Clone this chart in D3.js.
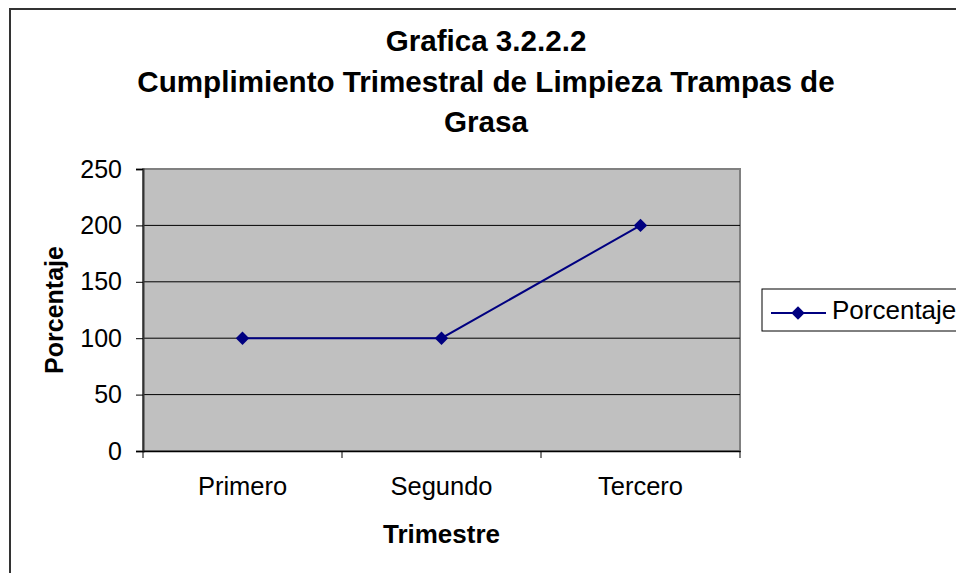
<!DOCTYPE html>
<html>
<head>
<meta charset="utf-8">
<script src="https://cdn.jsdelivr.net/npm/d3@7"></script>
<style>
  body { margin: 0; background: #fff; }
  svg text { font-family: "Liberation Sans", Arial, sans-serif; }
</style>
</head>
<body>
<div id="chart"></div>
<script>
// data
const categories = ["Primero", "Segundo", "Tercero"];
const porcentaje = [100, 100, 200];
const yTicks = [0, 50, 100, 150, 200, 250];
const titleLines = ["Grafica 3.2.2.2", "Cumplimiento Trimestral de Limpieza Trampas de", "Grasa"];

const W = 956, H = 573;
const plot = {left: 143, top: 169, right: 740, bottom: 451};

const svg = d3.select("#chart").append("svg")
  .attr("width", W).attr("height", H);

// outer chart border
svg.append("rect")
  .attr("x", 10).attr("y", 9)
  .attr("width", 980).attr("height", 600)
  .attr("fill", "#fff").attr("stroke", "#333").attr("stroke-width", 2);

// title
svg.append("text")
  .attr("text-anchor", "middle")
  .attr("font-weight", "bold").attr("font-size", 29.6)
  .selectAll("tspan").data(titleLines).enter().append("tspan")
  .attr("x", 486).attr("y", (d, i) => 51 + i * 40.5)
  .text(d => d);

const x = d3.scaleBand().domain(categories).range([plot.left, plot.right]);
const y = d3.scaleLinear().domain([0, 250]).range([plot.bottom, plot.top]);

// plot area
svg.append("rect")
  .attr("x", plot.left).attr("y", plot.top)
  .attr("width", plot.right - plot.left).attr("height", plot.bottom - plot.top)
  .attr("fill", "#c0c0c0").attr("stroke", "#808080").attr("stroke-width", 2);

// gridlines
svg.append("g").selectAll("line").data(yTicks.filter(d => d > 0 && d < 250)).enter()
  .append("line")
  .attr("x1", plot.left).attr("x2", plot.right)
  .attr("y1", d => y(d)).attr("y2", d => y(d))
  .attr("stroke", "#000").attr("stroke-width", 1);

// y axis
const yAxis = svg.append("g")
  .attr("transform", `translate(${plot.left},0)`)
  .call(d3.axisLeft(y).tickValues(yTicks).tickSize(7).tickPadding(14));
yAxis.select(".domain").attr("stroke", "#333").attr("stroke-width", 2);
yAxis.selectAll(".tick line").attr("stroke", "#000");
yAxis.selectAll("text").attr("font-size", 25).attr("fill", "#000")
  .attr("font-family", "Liberation Sans, Arial, sans-serif");

// x axis
const xAxis = svg.append("g")
  .attr("transform", `translate(0,${plot.bottom})`)
  .call(d3.axisBottom(x).tickSize(0).tickPadding(26));
xAxis.select(".domain").attr("stroke", "#000").attr("stroke-width", 1.5);
xAxis.selectAll("text").attr("font-size", 25.5).attr("fill", "#000")
  .attr("font-family", "Liberation Sans, Arial, sans-serif");
// boundary ticks between categories
const bounds = categories.map(c => x(c)).concat([plot.right]);
xAxis.selectAll(".btick").data(bounds).enter().append("line")
  .attr("x1", d => d).attr("x2", d => d)
  .attr("y1", 0).attr("y2", 7)
  .attr("stroke", "#000");

// axis titles
svg.append("text")
  .attr("x", x(categories[1]) + x.bandwidth() / 2).attr("y", 543)
  .attr("text-anchor", "middle").attr("font-weight", "bold").attr("font-size", 26)
  .text("Trimestre");
svg.append("text")
  .attr("transform", `translate(63,${(plot.top + plot.bottom) / 2}) rotate(-90)`)
  .attr("text-anchor", "middle").attr("font-weight", "bold").attr("font-size", 25)
  .text("Porcentaje");

// series line
const cx = d => x(d) + x.bandwidth() / 2;
const line = d3.line().x((d, i) => cx(categories[i])).y(d => y(d));
svg.append("path").datum(porcentaje)
  .attr("d", line).attr("fill", "none")
  .attr("stroke", "#000080").attr("stroke-width", 2);

const diamond = d3.symbol().type(d3.symbolSquare).size(90);
svg.append("g").selectAll("path").data(porcentaje).enter().append("path")
  .attr("d", diamond)
  .attr("transform", (d, i) => `translate(${cx(categories[i])},${y(d)}) rotate(45)`)
  .attr("fill", "#000080");

// legend
svg.append("rect")
  .attr("x", 762).attr("y", 289).attr("width", 220).attr("height", 42)
  .attr("fill", "#fff").attr("stroke", "#000").attr("stroke-width", 1);
svg.append("line")
  .attr("x1", 771).attr("x2", 826).attr("y1", 313).attr("y2", 313)
  .attr("stroke", "#000080").attr("stroke-width", 2);
svg.append("path").attr("d", diamond)
  .attr("transform", "translate(798,313) rotate(45)").attr("fill", "#000080");
svg.append("text")
  .attr("x", 832).attr("y", 319).attr("font-size", 26)
  .text("Porcentaje");
</script>
</body>
</html>
